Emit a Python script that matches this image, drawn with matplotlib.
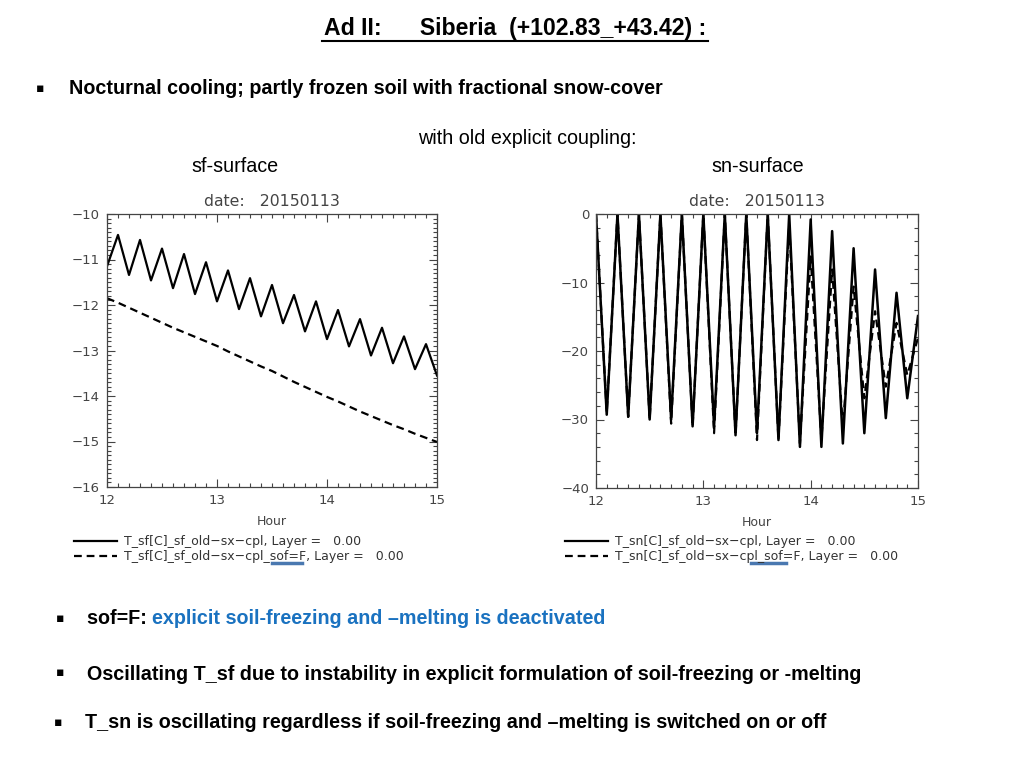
import numpy as np
import matplotlib
matplotlib.use("Agg")
import matplotlib.pyplot as plt
from matplotlib.ticker import MultipleLocator
from matplotlib.lines import Line2D

hours = [12.0, 12.1, 12.2, 12.3, 12.4, 12.5, 12.6, 12.7, 12.8, 12.9, 13.0,
         13.1, 13.2, 13.3, 13.4, 13.5, 13.6, 13.7, 13.8, 13.9, 14.0,
         14.1, 14.2, 14.3, 14.4, 14.5, 14.6, 14.7, 14.8, 14.9, 15.0]

t_sf = [-11.15, -10.46, -11.34, -10.57, -11.46, -10.76, -11.63, -10.88, -11.76, -11.06, -11.92,
        -11.24, -12.09, -11.41, -12.25, -11.56, -12.40, -11.78, -12.58, -11.92, -12.75,
        -12.11, -12.91, -12.31, -13.11, -12.50, -13.28, -12.69, -13.41, -12.86, -13.55]
t_sf_sof = [-11.85, -11.95, -12.06, -12.17, -12.28, -12.39, -12.50, -12.60, -12.70, -12.80, -12.90,
            -13.02, -13.13, -13.24, -13.35, -13.45, -13.57, -13.69, -13.80, -13.91, -14.02,
            -14.12, -14.23, -14.34, -14.44, -14.54, -14.64, -14.73, -14.83, -14.92, -15.01]

t_sn = [0.0, -29.3, 0.0, -29.6, 0.0, -30.0, 0.0, -30.0, 0.0, -31.0, 0.0,
        -31.0, 0.0, -32.3, 0.0, -32.0, 0.0, -33.0, 0.0, -34.0, -0.8,
        -34.0, -2.5, -33.5, -5.0, -32.0, -8.1, -29.8, -11.5, -26.9, -14.9]
t_sn_sof = [0.0, -29.0, 0.0, -29.6, 0.0, -30.0, 0.0, -30.6, 0.0, -31.0, 0.0,
            -32.0, 0.0, -32.3, 0.0, -33.0, 0.0, -33.0, -1.5, -33.5, -6.2,
            -33.0, -8.1, -31.0, -10.6, -26.9, -14.2, -25.2, -15.9, -23.5, -18.1]

leg_sf = ["T_sf[C]_sf_old\u2212sx\u2212cpl, Layer =   0.00",
          "T_sf[C]_sf_old\u2212sx\u2212cpl_sof=F, Layer =   0.00"]
leg_sn = ["T_sn[C]_sf_old\u2212sx\u2212cpl, Layer =   0.00",
          "T_sn[C]_sf_old\u2212sx\u2212cpl_sof=F, Layer =   0.00"]

W, H = 1024, 768
fig = plt.figure(figsize=(W / 100, H / 100), dpi=100)
fig.patch.set_facecolor("white")

def fx(px):
    return px / W

def fy(py):
    return 1 - py / H

gray = "#444444"
dash = (0, (3.5, 2.2))

def style_axes(ax, ymin, ymax, ymaj, ymin_step):
    ax.set_xlim(12, 15)
    ax.set_ylim(ymin, ymax)
    ax.xaxis.set_major_locator(MultipleLocator(1))
    ax.xaxis.set_minor_locator(MultipleLocator(0.1))
    ax.yaxis.set_major_locator(MultipleLocator(ymaj))
    ax.yaxis.set_minor_locator(MultipleLocator(ymin_step))
    ax.tick_params(which="both", direction="in", top=True, right=True,
                   colors=gray, labelcolor=gray, labelsize=9.5, width=0.8)
    ax.tick_params(which="major", length=6, pad=5)
    ax.tick_params(which="minor", length=3)
    for s in ax.spines.values():
        s.set_color(gray)
        s.set_linewidth(0.9)
    ax.set_title("date:   20150113", color=gray, fontsize=11.3, pad=6)
    ax.set_xlabel("Hour", color=gray, fontsize=9, labelpad=6)

# Left panel
ax1 = fig.add_axes([fx(107), fy(487), fx(437) - fx(107), fy(214) - fy(487)])
ax1.plot(hours, t_sf, color="black", lw=1.6)
ax1.plot(hours, t_sf_sof, color="black", lw=1.6, linestyle=dash)
style_axes(ax1, -16, -10, 1, 0.1)

# Right panel
ax2 = fig.add_axes([fx(596), fy(488), fx(918) - fx(596), fy(214) - fy(488)])
ax2.plot(hours, t_sn_sof, color="black", lw=1.6, linestyle=dash)
ax2.plot(hours, t_sn, color="black", lw=1.8)
style_axes(ax2, -40, 0, 10, 2)

# Legends
def add_legend(x0, labels):
    handles = [Line2D([], [], color="black", lw=1.6),
               Line2D([], [], color="black", lw=1.6, linestyle=dash)]
    fig.legend(handles, labels, loc="upper left",
               bbox_to_anchor=(fx(x0), fy(535)), frameon=False,
               fontsize=9, labelcolor="#333333", handlelength=3.4,
               handletextpad=0.6, labelspacing=0.15, borderpad=0, borderaxespad=0)

add_legend(74, leg_sf)
add_legend(565, leg_sn)

# blue highlight under "sof=F"
fig.add_artist(Line2D([fx(272), fx(302)], [fy(563), fy(563)], color="#4a78b0", lw=2.5))
fig.add_artist(Line2D([fx(751), fx(786)], [fy(563), fy(563)], color="#4a78b0", lw=2.5))

narrow = ["Liberation Sans", "DejaVu Sans"]

# Title
fig.text(fx(515), fy(29), "Ad II:      Siberia  (+102.83_+43.42) :", ha="center", va="center",
         fontsize=16.6, fontweight="bold", family=narrow)
fig.add_artist(Line2D([fx(322), fx(708)], [fy(41), fy(41)], color="black", lw=1.5))

# Bullets and texts
def bullet(x, y):
    fig.text(fx(x), fy(y), "\u25aa", ha="center", va="center", fontsize=9,
             family=["DejaVu Sans"])

fs = 14.2
bullet(40, 89)
fig.text(fx(69), fy(89), "Nocturnal cooling; partly frozen soil with fractional snow-cover",
         ha="left", va="center", fontsize=fs, fontweight="bold", family=narrow)

fig.text(fx(527), fy(138), "with old explicit coupling:", ha="center", va="center",
         fontsize=fs, family=narrow)
fig.text(fx(235), fy(167), "sf-surface", ha="center", va="center", fontsize=fs, family=narrow)
fig.text(fx(758), fy(167), "sn-surface", ha="center", va="center", fontsize=fs, family=narrow)

bullet(60, 618)
t = fig.text(fx(87), fy(619), "sof=F: ", ha="left", va="center", fontsize=fs,
             fontweight="bold", family=narrow)
fig.canvas.draw()
bb = t.get_window_extent()
fig.text(bb.x1 / W, fy(619), "explicit soil-freezing and \u2013melting is deactivated",
         ha="left", va="center", fontsize=fs, fontweight="bold", color="#1a72c0", family=narrow)

bullet(60, 673)
fig.text(fx(87), fy(674), "Oscillating T_sf due to instability in explicit formulation of soil-freezing or -melting",
         ha="left", va="center", fontsize=fs, fontweight="bold", family=narrow)
bullet(58, 722)
fig.text(fx(85), fy(723), "T_sn is oscillating regardless if soil-freezing and \u2013melting is switched on or off",
         ha="left", va="center", fontsize=fs, fontweight="bold", family=narrow)

fig.savefig("out.png", dpi=100, facecolor="white")
